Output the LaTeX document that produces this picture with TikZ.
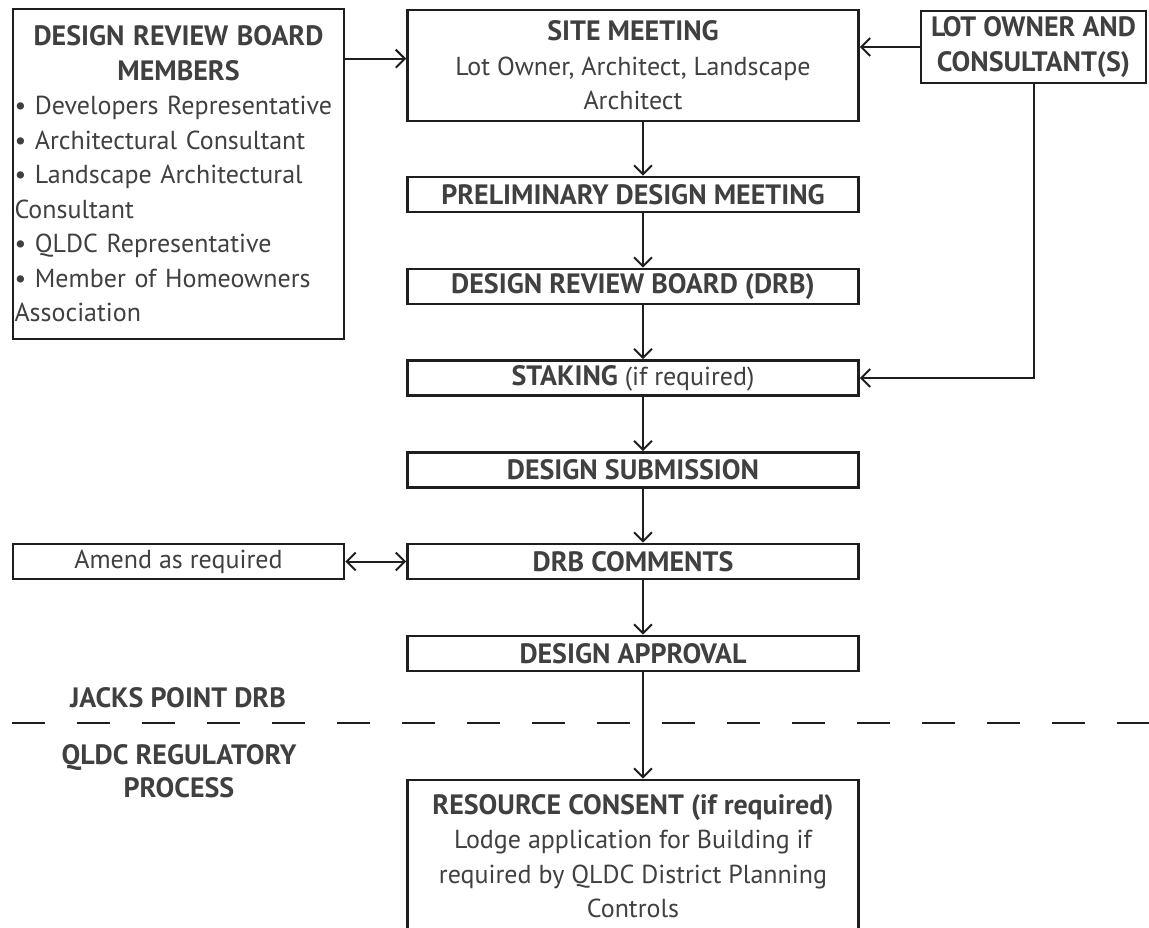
\documentclass[tikz,border=0pt]{standalone}
\usepackage{fontspec}
\setmainfont{PT Sans}
\usetikzlibrary{arrows.meta,calc}
\definecolor{txt}{HTML}{404040}
\definecolor{ln}{HTML}{1E1E1E}
\tikzset{
  box/.style={draw=ln,line width=2.6pt,rectangle,inner sep=0pt,text=txt,align=center,
    font=\fontsize{26}{34.5}\selectfont},
  flowbox/.style={box,minimum width=451pt,minimum height=35pt},
  arr/.style={draw=ln,line width=2pt,-{Straight Barb[length=9pt,width=18pt,line width=2pt]}},
  darr/.style={draw=ln,line width=2pt,{Straight Barb[length=9pt,width=18pt,line width=2pt]}-{Straight Barb[length=9pt,width=18pt,line width=2pt]}},
  lbl/.style={text=txt,align=center,font=\fontsize{28}{33}\selectfont\bfseries},
  sep/.style={draw=ln,line width=2pt,dash pattern=on 33pt off 32pt}
}
\newcommand{\hb}[1]{{\fontsize{28}{34.5}\selectfont\bfseries #1}}
\begin{document}
\begin{tikzpicture}[x=1pt,y=-1pt]
\clip (0,0) rectangle (1149,927);
\fill[white] (0,0) rectangle (1149,927);
% nodes
\node[box,minimum width=331pt,minimum height=330pt,text width=328pt,align=left] (members) at (178.5,174)
  {\centering\hb{DESIGN REVIEW BOARD}\\ \hb{MEMBERS}\par
   \raggedright\textbullet{} Developers Representative\\
   \textbullet{} Architectural Consultant\\
   \textbullet{} Landscape Architectural\\
   Consultant\\
   \textbullet{} QLDC Representative\\
   \textbullet{} Member of Homeowners\\
   Association};
\node[flowbox,minimum height=111pt] (site) at (633,65.5)
  {\hb{SITE MEETING}\\Lot Owner, Architect, Landscape\\Architect};
\node[box,minimum width=225pt,minimum height=72pt] (lot) at (1033.5,47)
  {\hb{LOT OWNER AND}\\\hb{CONSULTANT(S)}};
\node[flowbox] (prelim) at (633,194.5) {\hb{PRELIMINARY DESIGN MEETING}};
\node[flowbox] (drb) at (633,286.5) {\hb{DESIGN REVIEW BOARD (DRB)}};
\node[flowbox] (stak) at (633,378) {\hb{STAKING} (if required)};
\node[flowbox] (sub) at (633,470) {\hb{DESIGN SUBMISSION}};
\node[flowbox] (comm) at (633,561.5) {\hb{DRB COMMENTS}};
\node[box,minimum width=331pt,minimum height=35pt] (amend) at (178.5,561.5) {Amend as required};
\node[flowbox] (appr) at (633,653.5) {\hb{DESIGN APPROVAL}};
\node[flowbox,minimum height=152pt] (res) at (633,856)
  {\hb{RESOURCE CONSENT (if required)}\\Lodge application for Building if\\required by QLDC District Planning\\Controls};
\node[lbl] (jp) at (178,698) {JACKS POINT DRB};
\node[lbl] (ql) at (179,771) {QLDC REGULATORY\\PROCESS};
% separator
\coordinate (sl) at (12,723);
\coordinate (sr) at (1149,723);
\draw[sep] (sl) -- (sr);
% connectors
\coordinate (ax) at (643,0);
\path (members.north east) ++(0,51) coordinate (m1);
\draw[arr] (m1) -- (m1 -| site.west);
\draw[arr] (lot.west) -- (lot.west -| site.east);
\draw[arr] (lot.south) |- (stak.east);
\draw[arr] (site.south -| ax) -- (prelim.north -| ax);
\draw[arr] (prelim.south -| ax) -- (drb.north -| ax);
\draw[arr] (drb.south -| ax) -- (stak.north -| ax);
\draw[arr] (stak.south -| ax) -- (sub.north -| ax);
\draw[arr] (sub.south -| ax) -- (comm.north -| ax);
\draw[arr] (comm.south -| ax) -- (appr.north -| ax);
\draw[arr] (appr.south -| ax) -- (res.north -| ax);
\draw[darr] (amend.east) -- (comm.west);
\end{tikzpicture}
\end{document}
